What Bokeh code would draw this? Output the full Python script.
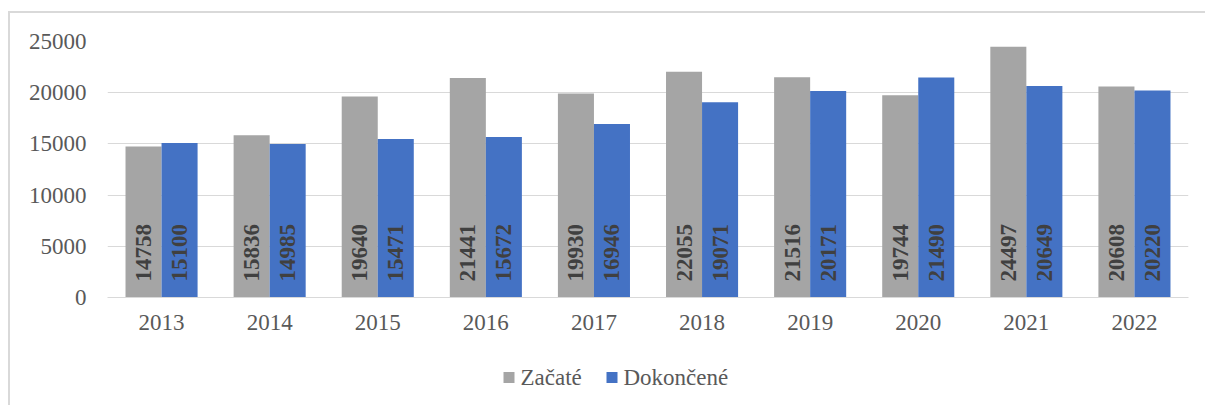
import math
from bokeh.plotting import figure
from bokeh.layouts import column
from bokeh.models import FactorRange, Range1d, FixedTicker, ColumnDataSource
from bokeh.transform import dodge
from bokeh.core.properties import value
from bokeh.embed import file_html
from bokeh.resources import INLINE

years = ["2013", "2014", "2015", "2016", "2017", "2018", "2019", "2020", "2021", "2022"]
zacate = [14758, 15836, 19640, 21441, 19930, 22055, 21516, 19744, 24497, 20608]
dokoncene = [15100, 14985, 15471, 15672, 16946, 19071, 20171, 21490, 20649, 20220]
y_ticks = [0, 5000, 10000, 15000, 20000, 25000]
series_names = ["Začaté", "Dokončené"]

GRAY = "#a5a5a5"
BLUE = "#4472c4"
TXT = "#595959"
FONT = "Liberation Serif"

# container starts at (8, 11) with 2px border -> content at (10, 13)
W = 1195

src = ColumnDataSource(dict(
    year=years, zacate=zacate, dokoncene=dokoncene,
    zl=[str(v) for v in zacate], dl=[str(v) for v in dokoncene],
))

p = figure(width=W, height=332, x_range=FactorRange(*years), y_range=Range1d(0, 25000),
           output_backend="svg", toolbar_location=None,
           min_border_left=97, min_border_right=17, min_border_top=28, min_border_bottom=48)
p.outline_line_color = None
p.background_fill_color = "white"
p.border_fill_color = "white"

r1 = p.vbar(x=dodge("year", -1/6, range=p.x_range), top="zacate", width=1/3, source=src,
            fill_color=GRAY, line_color=None)
r2 = p.vbar(x=dodge("year", 1/6, range=p.x_range), top="dokoncene", width=1/3, source=src,
            fill_color=BLUE, line_color=None)

for off, col in ((-1/6, "zl"), (1/6, "dl")):
    p.text(x=dodge("year", off, range=p.x_range), y=0, text=col, source=src,
           angle=math.pi/2, text_align="left", text_baseline="middle", y_offset=-16,
           text_font=value(FONT), text_font_style="bold", text_font_size="23px",
           text_color="#404040")

p.xgrid.grid_line_color = None
p.ygrid.grid_line_color = "#d9d9d9"
p.ygrid.grid_line_width = 1
p.yaxis.ticker = FixedTicker(ticks=y_ticks)

for ax in (p.xaxis, p.yaxis):
    ax.major_tick_line_color = None
    ax.minor_tick_line_color = None
    ax.major_tick_in = 0
    ax.major_tick_out = 0
    ax.major_label_text_font = FONT
    ax.major_label_text_font_size = "23px"
    ax.major_label_text_color = TXT
p.yaxis.axis_line_color = None
p.yaxis.major_label_standoff = 21
p.xaxis.axis_line_color = "#d9d9d9"
p.xaxis.axis_line_width = 1
p.xaxis.major_label_standoff = 17

# legend strip below the chart; its ranges are page pixels (x: 107..1188, y: 345..405)
lf = figure(width=W, height=60, x_range=Range1d(107, 1188), y_range=Range1d(405, 345),
            output_backend="svg", toolbar_location=None,
            min_border_left=97, min_border_right=17, min_border_top=0, min_border_bottom=0)
lf.axis.visible = False
lf.grid.visible = False
lf.outline_line_color = None
lf.background_fill_color = "white"
lf.border_fill_color = "white"

LEG_SWATCH_LEFT = [503, 606]   # layout positions of the two legend entries
LEG_Y = 377
SW = 11
leg = ColumnDataSource(dict(
    sx=[v + SW / 2 for v in LEG_SWATCH_LEFT],
    tx=[v + SW + 6 for v in LEG_SWATCH_LEFT],
    y=[LEG_Y, LEG_Y],
    label=series_names,
    color=[GRAY, BLUE],
))
lf.rect(x="sx", y="y", width=SW, height=SW, source=leg, fill_color="color", line_color=None)
lf.text(x="tx", y="y", text="label", source=leg, text_align="left", text_baseline="middle",
        text_font=value(FONT), text_font_style="normal", text_font_size="23px",
        text_color=TXT)

layout = column(p, lf, spacing=0, margin=(11, 0, 0, 8),
                styles={"border-left": "2px solid #d9d9d9", "border-top": "2px solid #d9d9d9"})

open("out.html", "w").write(file_html(layout, INLINE))
